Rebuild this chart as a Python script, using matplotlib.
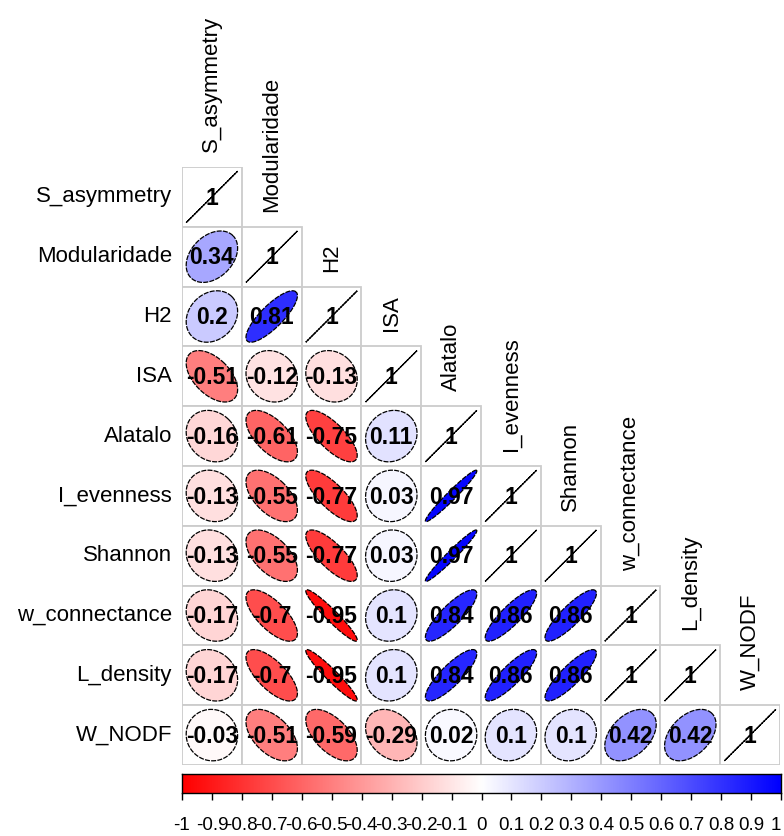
import numpy as np
import matplotlib
matplotlib.use("Agg")
import matplotlib.pyplot as plt
from matplotlib.colors import LinearSegmentedColormap
from matplotlib.patches import Rectangle, Polygon

plt.rcParams['font.family'] = ['Liberation Sans', 'DejaVu Sans']

variables = ['S_asymmetry', 'Modularidade', 'H2', 'ISA', 'Alatalo', 'I_evenness',
             'Shannon', 'w_connectance', 'L_density', 'W_NODF']

# lower triangle of the correlation matrix, row by row
lower = [
    [1],
    [0.34, 1],
    [0.2, 0.81, 1],
    [-0.51, -0.12, -0.13, 1],
    [-0.16, -0.61, -0.75, 0.11, 1],
    [-0.13, -0.55, -0.77, 0.03, 0.97, 1],
    [-0.13, -0.55, -0.77, 0.03, 0.97, 1, 1],
    [-0.17, -0.7, -0.95, 0.1, 0.84, 0.86, 0.86, 1],
    [-0.17, -0.7, -0.95, 0.1, 0.84, 0.86, 0.86, 1, 1],
    [-0.03, -0.51, -0.59, -0.29, 0.02, 0.1, 0.1, 0.42, 0.42, 1],
]

cbar_ticks = np.round(np.arange(-1, 1.01, 0.1), 1)

cmap = LinearSegmentedColormap.from_list('rwb', ['red', 'white', 'blue'], N=200)
n = len(variables)


def ellipse(rho, npts=99):
    """Ellipse outline used for a correlation value (corrplot style)."""
    k = np.linspace(0, 2 * np.pi, npts)
    d = np.arccos(np.clip(rho, -1, 1)) / 2
    x = np.cos(k + d) / 2
    y = np.cos(k - d) / 2
    return 0.86 * x, 0.86 * y


def fmt(v):
    v = round(float(v), 2) + 0.0
    if v == 0:
        return '0'
    return f'{v:g}'


fig = plt.figure(figsize=(7.84, 8.36), dpi=100)
W, H = 784, 836
gx0, gx1, gy0, gy1 = 182, 780, 167, 765
ax = fig.add_axes([gx0 / W, 1 - gy1 / H, (gx1 - gx0) / W, (gy1 - gy0) / H])
ax.set_xlim(-0.5, n - 0.5)
ax.set_ylim(n - 0.5, -0.5)
ax.axis('off')

for i, row in enumerate(lower):
    for j, r in enumerate(row):
        ax.add_patch(Rectangle((j - 0.5, i - 0.5), 1, 1, facecolor='white',
                               edgecolor='#cccccc', lw=1.3, zorder=1))
        ex, ey = ellipse(r)
        pts = np.column_stack([j + ex, i - ey])
        ax.add_patch(Polygon(pts, closed=True, facecolor=cmap((r + 1) / 2),
                             edgecolor='black', lw=0.9, linestyle=(0, (4, 1)),
                             zorder=2))
        ax.text(j, i + 0.02, fmt(r), ha='center', va='center', fontsize=16.5,
                fontweight='bold', color='black', zorder=3)

cell_px = (gx1 - gx0) / n
for i, name in enumerate(variables):
    ax.text(-0.5 - 10 / cell_px, i, name, ha='right', va='center',
            fontsize=16, color='black', clip_on=False)
    ax.text(i, i - 0.5 - 15 / cell_px, name, ha='center', va='bottom',
            rotation=90, fontsize=16, color='black', clip_on=False)

# colour legend
cax = fig.add_axes([182 / W, 1 - 793 / H, (781 - 182) / W, (793 - 774) / H])
grad = np.linspace(-1, 1, 200).reshape(1, -1)
cax.imshow(grad, cmap=cmap, aspect='auto', extent=(-1, 1, 0, 1), vmin=-1, vmax=1)
cax.set_xlim(-1, 1)
cax.set_yticks([])
cax.set_xticks(cbar_ticks)
cax.set_xticklabels([fmt(v) for v in cbar_ticks], fontsize=13.5)
cax.tick_params(axis='x', direction='out', length=5, width=1, pad=12)
# keep the last label inside the figure edge
cax.get_xticklabels()[-1].set_horizontalalignment('right')
for sp in cax.spines.values():
    sp.set_linewidth(1)

fig.savefig('out.png', dpi=100)
